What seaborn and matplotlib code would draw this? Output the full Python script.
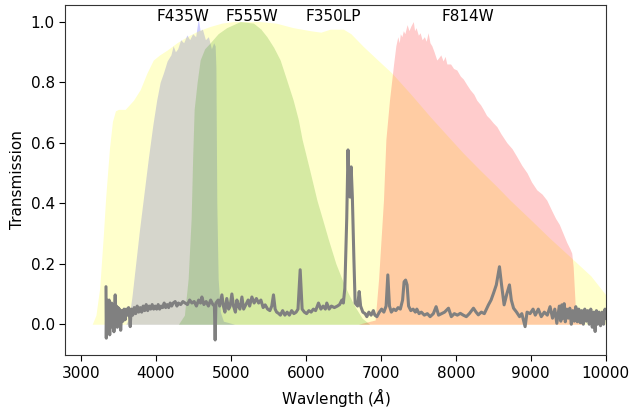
import matplotlib
matplotlib.use("Agg")
import matplotlib.pyplot as plt
import seaborn as sns
import pandas as pd

# Courbes de transmission des filtres
f350lp_wl = [3000, 3150, 3200, 3250, 3300, 3330, 3380, 3420, 3460, 3500, 3590, 3700,
             3790, 3880, 3965, 4050, 4150, 4280, 4420, 4570, 4725, 4880, 5030, 5200,
             5390, 5600, 5830, 6057, 6200, 6324, 6500, 6600, 6765, 6950, 7146, 7400,
             7657, 7880, 8097, 8320, 8547, 8724, 9000, 9250, 9524, 9800, 10000, 10200]
f350lp_t = [0.0, 0.0, 0.03, 0.12, 0.3, 0.42, 0.58, 0.67, 0.705, 0.71, 0.71, 0.74,
            0.775, 0.83, 0.873, 0.89, 0.906, 0.93, 0.951, 0.97, 0.984, 0.995, 1.0, 1.0,
            1.0, 0.995, 0.98, 0.97, 0.965, 0.975, 0.975, 0.96, 0.918, 0.875, 0.83, 0.76,
            0.686, 0.625, 0.566, 0.51, 0.455, 0.41, 0.345, 0.285, 0.223, 0.16, 0.097, 0.05]

f435w_wl = [3600, 3640, 3680, 3730, 3780, 3830, 3900, 3960, 4010, 4057, 4100, 4150,
            4200, 4230, 4260, 4290, 4330, 4370, 4413, 4450, 4490, 4530, 4565, 4590,
            4620, 4660, 4700, 4740, 4770, 4790, 4800, 4812, 4830, 4860, 4900, 5050]
f435w_t = [0.0, 0.02, 0.09, 0.2, 0.31, 0.41, 0.55, 0.66, 0.74, 0.8, 0.83, 0.87,
           0.89, 0.92, 0.9, 0.91, 0.94, 0.93, 0.956, 0.94, 0.96, 0.95, 1.01, 0.97,
           0.975, 0.94, 0.95, 0.91, 0.93, 0.92, 0.85, 0.4, 0.15, 0.04, 0.01, 0.0]

f555w_wl = [4300, 4380, 4430, 4470, 4490, 4510, 4550, 4590, 4650, 4725, 4830, 4945,
            5125, 5300, 5400, 5480, 5570, 5657, 5740, 5830, 5900, 5950, 6050, 6147,
            6230, 6300, 6400, 6480, 6550, 6650, 6750, 6850]
f555w_t = [0.0, 0.03, 0.15, 0.35, 0.55, 0.71, 0.8, 0.873, 0.91, 0.93, 0.96, 0.98,
           1.0, 0.995, 0.975, 0.95, 0.915, 0.873, 0.81, 0.741, 0.675, 0.61, 0.51, 0.41,
           0.34, 0.28, 0.2, 0.15, 0.11, 0.06, 0.02, 0.0]

f814w_wl = [6700, 6924, 6970, 7035, 7067, 7115, 7170, 7200, 7226, 7245, 7260, 7280,
            7300, 7320, 7350, 7375, 7400, 7433, 7450, 7470, 7500, 7524, 7550, 7580,
            7605, 7630, 7655, 7680, 7710, 7746, 7770, 7800, 7830, 7857, 7880, 7930,
            7970, 8013, 8060, 8100, 8150, 8190, 8240, 8280, 8330, 8366, 8410, 8450,
            8500, 8547, 8600, 8680, 8750, 8813, 8880, 8950, 9010, 9080, 9150, 9213,
            9280, 9330, 9380, 9430, 9480, 9520, 9546, 9565, 9580, 9595, 9610, 9700]
f814w_t = [0.0, 0.014, 0.15, 0.41, 0.61, 0.74, 0.86, 0.92, 0.95, 0.93, 0.96, 0.95,
           0.97, 0.96, 0.99, 0.97, 0.985, 1.0, 0.97, 0.98, 0.955, 0.963, 0.94, 0.95,
           0.935, 0.963, 0.93, 0.92, 0.9, 0.873, 0.88, 0.89, 0.87, 0.885, 0.86, 0.86,
           0.845, 0.84, 0.82, 0.81, 0.79, 0.775, 0.76, 0.74, 0.725, 0.71, 0.69, 0.68,
           0.665, 0.653, 0.63, 0.6, 0.58, 0.554, 0.525, 0.5, 0.47, 0.444, 0.43, 0.41,
           0.375, 0.35, 0.33, 0.3, 0.27, 0.25, 0.235, 0.19, 0.12, 0.05, 0.01, 0.0]

# Spectre
spec_wl = [3334, 3338, 3345, 3352, 3360, 3368, 3376, 3384, 3392, 3400, 3410, 3420,
           3430, 3440, 3450, 3457, 3465, 3475, 3485, 3495, 3505, 3515, 3530, 3545,
           3560, 3575, 3590, 3605, 3620, 3635, 3650, 3657, 3670, 3690, 3710, 3730,
           3750, 3770, 3790, 3810, 3830, 3850, 3870, 3890, 3910, 3930, 3950, 3970,
           3990, 4010, 4030, 4050, 4070, 4090, 4110, 4130, 4150, 4170, 4190, 4210,
           4230, 4257, 4280, 4300, 4330, 4360, 4390, 4420, 4450, 4480, 4510, 4540,
           4570, 4595, 4613, 4640, 4670, 4700, 4730, 4760, 4780, 4790, 4800, 4830,
           4850, 4880, 4900, 4920, 4945, 4970, 4990, 5013, 5035, 5060, 5080, 5100,
           5120, 5147, 5170, 5200, 5230, 5250, 5280, 5310, 5340, 5370, 5400, 5430,
           5457, 5490, 5520, 5545, 5568, 5590, 5610, 5635, 5660, 5690, 5720, 5750,
           5780, 5810, 5840, 5870, 5895, 5924, 5950, 5980, 6010, 6040, 6070, 6100,
           6130, 6168, 6200, 6230, 6260, 6279, 6310, 6340, 6380, 6420, 6450, 6480,
           6500, 6520, 6545, 6562, 6575, 6590, 6604, 6620, 6640, 6657, 6690, 6711,
           6730, 6760, 6790, 6813, 6840, 6870, 6900, 6920, 6947, 6980, 7010, 7040,
           7070, 7093, 7115, 7140, 7170, 7200, 7230, 7260, 7290, 7310, 7330, 7350,
           7370, 7400, 7430, 7460, 7480, 7510, 7540, 7580, 7620, 7657, 7700, 7737,
           7770, 7810, 7850, 7902, 7940, 7980, 8020, 8060, 8100, 8140, 8180, 8235,
           8270, 8300, 8340, 8380, 8435, 8470, 8502, 8540, 8582, 8610, 8644, 8680,
           8715, 8740, 8770, 8810, 8850, 8880, 8924, 8950, 8990, 9030, 9060, 9100,
           9140, 9180, 9220, 9257, 9290, 9320, 9347, 9380, 9400, 9413, 9430, 9445,
           9460, 9480, 9500, 9520, 9540, 9560, 9580, 9600, 9620, 9640, 9660, 9680,
           9700, 9720, 9740, 9760, 9780, 9800, 9820, 9840, 9858, 9875, 9890, 9910,
           9930, 9950, 9970, 9990, 10000]
spec_flux = [0.124, -0.046, 0.08, -0.03, 0.07, -0.02, 0.08, -0.035, 0.06, 0.0, 0.07, -0.01,
             0.06, -0.025, 0.05, 0.097, 0.0, 0.06, -0.01, 0.055, 0.0, 0.05, -0.02, 0.045,
             0.01, 0.05, 0.015, 0.05, 0.03, 0.055, 0.02, -0.008, 0.05, 0.03, 0.055, 0.035,
             0.06, 0.04, 0.055, 0.04, 0.06, 0.045, 0.065, 0.045, 0.06, 0.05, 0.065, 0.05,
             0.06, 0.05, 0.065, 0.05, 0.06, 0.055, 0.07, 0.055, 0.065, 0.055, 0.07, 0.06,
             0.07, 0.075, 0.06, 0.07, 0.065, 0.075, 0.07, 0.065, 0.08, 0.07, 0.075, 0.06,
             0.08, 0.07, 0.09, 0.065, 0.075, 0.06, 0.08, 0.065, 0.06, -0.052, 0.07, 0.08,
             0.06, 0.097, 0.06, 0.04, 0.085, 0.05, 0.06, 0.10, 0.06, 0.04, 0.08, 0.06,
             0.05, 0.09, 0.05, 0.065, 0.08, 0.06, 0.09, 0.07, 0.085, 0.07, 0.08, 0.055,
             0.064, 0.05, 0.045, 0.06, 0.097, 0.05, 0.04, 0.036, 0.03, 0.045, 0.03, 0.04,
             0.03, 0.045, 0.035, 0.04, 0.05, 0.18, 0.05, 0.04, 0.035, 0.045, 0.04, 0.05,
             0.045, 0.07, 0.05, 0.06, 0.05, 0.07, 0.05, 0.06, 0.055, 0.06, 0.065, 0.08,
             0.07, 0.12, 0.35, 0.576, 0.45, 0.42, 0.52, 0.42, 0.22, 0.07, 0.06, 0.108,
             0.06, 0.04, 0.035, 0.025, 0.04, 0.03, 0.045, 0.03, 0.025, 0.04, 0.05, 0.04,
             0.06, 0.163, 0.06, 0.04, 0.05, 0.045, 0.055, 0.05, 0.08, 0.14, 0.146, 0.13,
             0.06, 0.045, 0.05, 0.04, 0.05, 0.035, 0.04, 0.03, 0.035, 0.025, 0.035, 0.058,
             0.03, 0.035, 0.04, 0.053, 0.025, 0.035, 0.03, 0.036, 0.03, 0.025, 0.035, 0.053,
             0.04, 0.031, 0.04, 0.035, 0.064, 0.08, 0.102, 0.13, 0.19, 0.13, 0.064, 0.1,
             0.13, 0.08, 0.053, 0.04, 0.025, 0.035, -0.008, 0.04, 0.035, 0.05, 0.03, 0.05,
             0.025, 0.04, 0.03, 0.058, 0.02, 0.05, 0.003, 0.06, 0.01, 0.064, 0.02, 0.068,
             0.008, 0.05, 0.02, 0.053, 0.0, 0.045, 0.01, 0.058, 0.008, 0.05, 0.005, 0.045,
             0.0, 0.05, 0.01, 0.045, 0.0, 0.05, -0.01, 0.04, -0.024, 0.045, 0.0, 0.04,
             -0.005, 0.04, 0.0, 0.05, 0.02]

filter_names = ["F435W", "F555W", "F350LP", "F814W"]
label_wl = [4364, 5285, 6365, 8165]

sns.set_style("ticks")
plt.rcParams["font.family"] = ["DejaVu Sans"]

fig, ax = plt.subplots(figsize=(6.33, 4.11), dpi=100)
fig.subplots_adjust(left=0.103, right=0.957, top=0.988, bottom=0.136)

# Remplissage des filtres (bleu et vert sous le jaune)
ax.fill_between(f435w_wl, f435w_t, color="blue", alpha=0.2, lw=0)
ax.fill_between(f555w_wl, f555w_t, color="green", alpha=0.2, lw=0)
ax.fill_between(f350lp_wl, f350lp_t, color="yellow", alpha=0.2, lw=0)
ax.fill_between(f814w_wl, f814w_t, color="red", alpha=0.2, lw=0)

# Spectre
spec = pd.DataFrame({"wl": spec_wl, "flux": spec_flux})
sns.lineplot(data=spec, x="wl", y="flux", color="gray", lw=2.2, ax=ax, sort=False)

for name, wl in zip(filter_names, label_wl):
    ax.text(wl, 1.018, name, ha="center", va="center", fontsize=11, color="black")

ax.set_xlim(2790, 10000)
ax.set_ylim(-0.102, 1.055)
ax.set_xlabel(r"Wavlength ($\AA$)", fontsize=11, color="black")
ax.set_ylabel("Transmission", fontsize=11, color="black")
ax.tick_params(labelsize=11, colors="black", direction="out", length=4)
for s in ax.spines.values():
    s.set_color("#333333")

fig.savefig("out.png", dpi=100)
